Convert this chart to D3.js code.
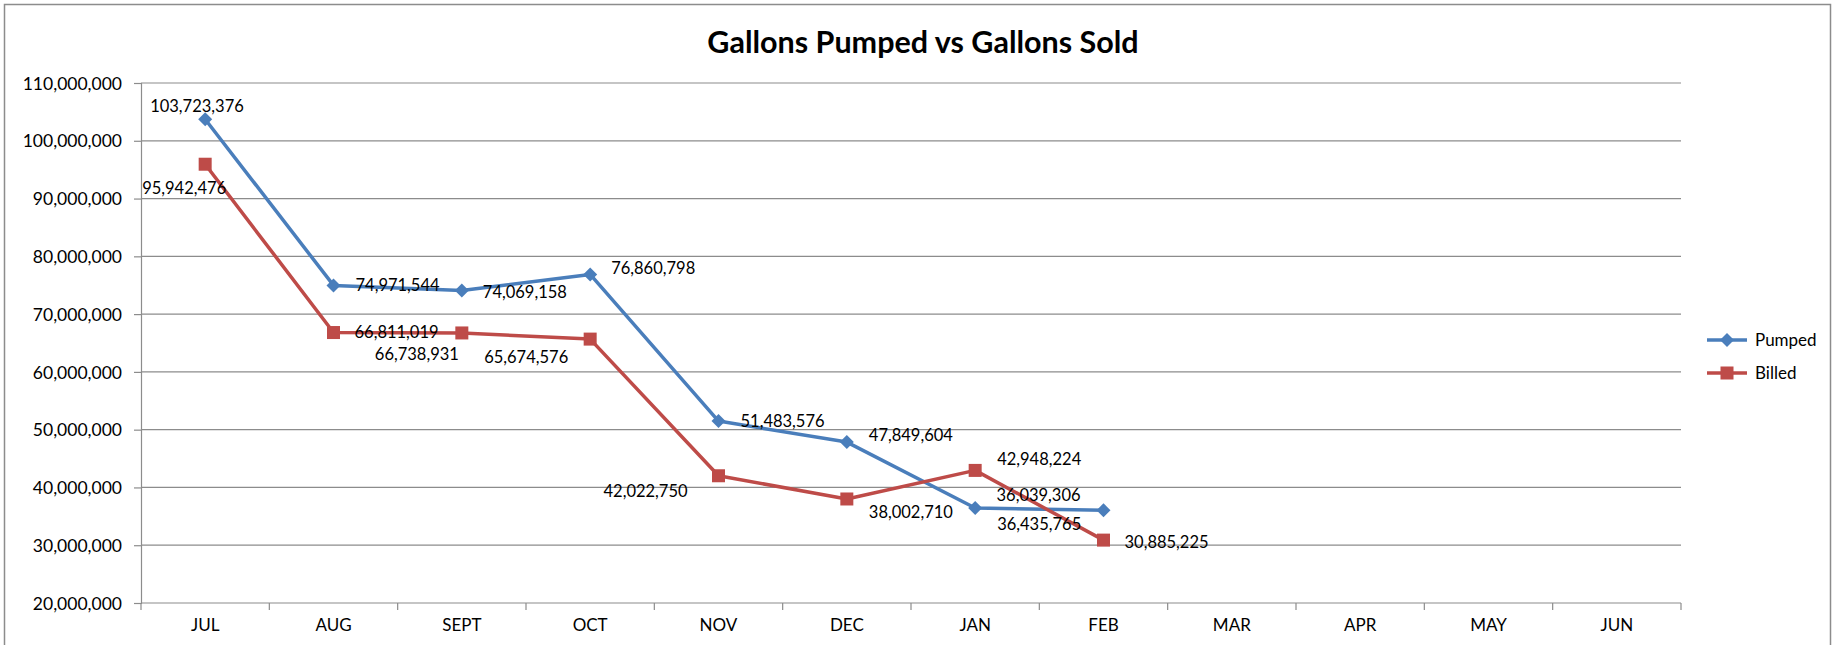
<!DOCTYPE html>
<html lang="en">
<head>
  <title>Gallons Pumped vs Gallons Sold</title>
  <meta charset="utf-8">
  <style>
  body { margin: 0; background: #fff; }
  text { font-family: Lato, "Open Sans", sans-serif; fill: #000; }
  .grid line { stroke: #8c8c8c; stroke-width: 1.2; }
  .axis path, .axis line { stroke: #8c8c8c; stroke-width: 1.2; }
  .axis text { font-size: 17.5px; }
  .label { font-size: 16.5px; }
  </style>
  <script src="https://cdn.jsdelivr.net/npm/d3@7"></script>
</head>
<body>
  <svg width="1843" height="645"></svg>
  <script>
  var months = ["JUL", "AUG", "SEPT", "OCT", "NOV", "DEC", "JAN", "FEB", "MAR", "APR", "MAY", "JUN"];
  var pumped = [103723376, 74971544, 74069158, 76860798, 51483576, 47849604, 36435765, 36039306];
  var billed = [95942476, 66811019, 66738931, 65674576, 42022750, 38002710, 42948224, 30885225];
  var yTicks = [20000000, 30000000, 40000000, 50000000, 60000000, 70000000, 80000000, 90000000, 100000000, 110000000];

  // hand-placed label offsets, like in the original sheet
  var pumpedLabelOffset = [[-55, -13], [22, 0], [21, 2], [21, -6], [22, 0], [22, -7], [22, 16], [-107, -15]];
  var billedLabelOffset = [[-63, 24], [21, 0], [-87, 21], [-106, 18], [-115, 15], [22, 13], [22, -11], [21, 2]];

  var svg = d3.select("svg"),
      margin = {top: 83, right: 162, bottom: 42, left: 141},
      width = +svg.attr("width") - margin.left - margin.right,
      height = +svg.attr("height") - margin.top - margin.bottom,
      g = svg.append("g").attr("transform", "translate(" + margin.left + "," + margin.top + ")");

  // chart border
  svg.append("rect")
      .attr("x", 4.5).attr("y", 4.5)
      .attr("width", 1826).attr("height", 660)
      .attr("fill", "none")
      .attr("stroke", "#8c8c8c")
      .attr("stroke-width", 1.5);

  svg.append("text")
      .attr("x", 923)
      .attr("y", 53)
      .attr("text-anchor", "middle")
      .attr("font-weight", "bold")
      .style("font-size", "30.5px")
      .text("Gallons Pumped vs Gallons Sold");

  var x = d3.scaleBand().domain(months).range([0, width]);
  var y = d3.scaleLinear().domain([20000000, 110000000]).range([height, 0]);
  var fmt = d3.format(",");

  g.append("g")
      .attr("class", "grid")
      .selectAll("line")
      .data(yTicks.slice(1))
      .enter().append("line")
        .attr("x1", 0).attr("x2", width)
        .attr("y1", function(d) { return y(d); })
        .attr("y2", function(d) { return y(d); });

  var yAxis = g.append("g")
      .attr("class", "axis")
      .call(d3.axisLeft(y).tickValues(yTicks).tickFormat(fmt).tickSizeOuter(0).tickSize(7).tickPadding(12));
  yAxis.selectAll("text").attr("dy", "0.35em");

  // x axis: ticks on the category boundaries
  var xg = g.append("g")
      .attr("class", "axis")
      .attr("transform", "translate(0," + height + ")");
  xg.append("line").attr("x1", 0).attr("x2", width);
  xg.selectAll(".tk")
      .data(d3.range(months.length + 1))
      .enter().append("line")
        .attr("x1", function(i) { return i * x.bandwidth(); })
        .attr("x2", function(i) { return i * x.bandwidth(); })
        .attr("y1", 0).attr("y2", 7);
  xg.selectAll("text")
      .data(months)
      .enter().append("text")
        .attr("x", function(d) { return x(d) + x.bandwidth() / 2; })
        .attr("y", 28)
        .attr("text-anchor", "middle")
        .style("font-size", "17px")
        .text(function(d) { return d; });

  var series = [
    {name: "Pumped", values: pumped, offsets: pumpedLabelOffset, color: "#4a7ebb", symbol: "diamond"},
    {name: "Billed", values: billed, offsets: billedLabelOffset, color: "#be4b48", symbol: "square"}
  ];

  var line = d3.line()
      .x(function(d, i) { return x(months[i]) + x.bandwidth() / 2; })
      .y(function(d) { return y(d); });

  function marker(sel, s, cx, cy) {
    if (s.symbol === "diamond") {
      sel.append("path")
          .attr("d", "M0,-7L7,0L0,7L-7,0Z")
          .attr("transform", "translate(" + cx + "," + cy + ")")
          .attr("fill", s.color);
    } else {
      sel.append("rect")
          .attr("x", cx - 6.5).attr("y", cy - 6.5)
          .attr("width", 13).attr("height", 13)
          .attr("fill", s.color);
    }
  }

  series.forEach(function(s) {
    g.append("path")
        .datum(s.values)
        .attr("fill", "none")
        .attr("stroke", s.color)
        .attr("stroke-width", 3.5)
        .attr("stroke-linejoin", "round")
        .attr("d", line);

    s.values.forEach(function(v, i) {
      var cx = x(months[i]) + x.bandwidth() / 2, cy = y(v);
      marker(g, s, cx, cy);
    });
  });

  series.forEach(function(s) {
    s.values.forEach(function(v, i) {
      var cx = x(months[i]) + x.bandwidth() / 2, cy = y(v);
      g.append("text")
          .attr("class", "label")
          .attr("x", cx + s.offsets[i][0])
          .attr("y", cy + s.offsets[i][1])
          .attr("dy", "0.35em")
          .text(fmt(v));
    });
  });

  // legend
  var legend = svg.append("g")
      .selectAll("g")
      .data(series)
      .enter().append("g")
        .attr("transform", function(d, i) { return "translate(1707," + (340 + i * 33) + ")"; });

  legend.append("line")
      .attr("x1", 0).attr("x2", 40)
      .attr("stroke", function(d) { return d.color; })
      .attr("stroke-width", 3.5);

  legend.each(function(d) { marker(d3.select(this), d, 20, 0); });

  legend.append("text")
      .attr("x", 48)
      .attr("dy", "0.35em")
      .style("font-size", "17px")
      .text(function(d) { return d.name; });
  </script>
</body>
</html>
